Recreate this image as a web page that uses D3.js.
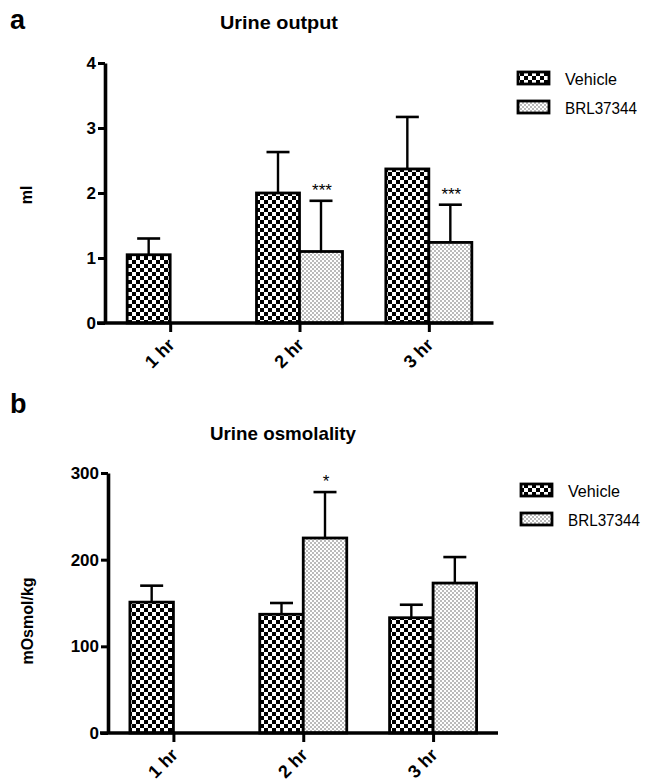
<!DOCTYPE html>
<html>
<head>
<meta charset="utf-8">
<script src="https://cdn.jsdelivr.net/npm/d3@7"></script>
<style>
  html, body { margin: 0; padding: 0; background: #fff; }
  svg { display: block; }
  text { font-family: "Liberation Sans", Arial, sans-serif; fill: #000; }
</style>
</head>
<body>
<svg id="chart" width="646" height="783"></svg>
<script>
// ---------- DATA ----------
const categories = ["1 hr", "2 hr", "3 hr"];
const seriesNames = ["Vehicle", "BRL37344"];

// Panel a: urine output (ml)
const outputVehicle    = [1.05, 2.00, 2.37];
const outputVehicleErr = [0.25, 0.63, 0.80];
const outputBRL        = [null, 1.10, 1.24];
const outputBRLErr     = [null, 0.78, 0.58];
const outputSig        = ["", "***", "***"];
const outputTicks      = [0, 1, 2, 3, 4];

// Panel b: urine osmolality (mOsmol/kg)
const osmoVehicle    = [151, 137, 133];
const osmoVehicleErr = [19, 13, 15];
const osmoBRL        = [null, 225, 173];
const osmoBRLErr     = [null, 53, 30];
const osmoSig        = ["", "*", ""];
const osmoTicks      = [0, 100, 200, 300];

// ---------- DRAWING ----------
const svg = d3.select("#chart");

// patterns
const defs = svg.append("defs");
const chk = defs.append("pattern").attr("id", "checker")
  .attr("patternUnits", "userSpaceOnUse").attr("width", 8).attr("height", 8);
chk.append("rect").attr("width", 8).attr("height", 8).attr("fill", "#fff");
chk.append("rect").attr("x", 0).attr("y", 0).attr("width", 4).attr("height", 4).attr("fill", "#000");
chk.append("rect").attr("x", 4).attr("y", 4).attr("width", 4).attr("height", 4).attr("fill", "#000");

const dots = defs.append("pattern").attr("id", "dots")
  .attr("patternUnits", "userSpaceOnUse").attr("width", 4).attr("height", 4);
dots.append("rect").attr("width", 4).attr("height", 4).attr("fill", "#fff");
dots.append("circle").attr("cx", 1).attr("cy", 1).attr("r", 0.75).attr("fill", "#555");
dots.append("circle").attr("cx", 3).attr("cy", 3).attr("r", 0.75).attr("fill", "#555");

const fills = { "Vehicle": "url(#checker)", "BRL37344": "url(#dots)" };
const legendLen = { "Vehicle": 52, "BRL37344": 72 };

function panel(opt) {
  const g = svg.append("g");
  const y = d3.scaleLinear().domain([0, opt.ticks[opt.ticks.length - 1]])
    .range([opt.y0, opt.y1]);
  const x = d3.scalePoint().domain(categories).range([opt.axisX + 0.5, opt.xEnd]).padding(0.5);
  const sub = d3.scaleBand().domain(seriesNames).range([-opt.barW, opt.barW]).padding(0);

  // panel letter
  g.append("text").attr("x", 10).attr("y", opt.letterY)
    .attr("font-size", 27).attr("font-weight", "bold").text(opt.letter);
  // title
  g.append("text").attr("x", opt.titleX).attr("y", opt.titleY)
    .attr("text-anchor", "middle").attr("font-size", 19).attr("font-weight", "bold")
    .attr("textLength", opt.titleLen).attr("lengthAdjust", "spacingAndGlyphs")
    .text(opt.title);
  // y label
  g.append("text")
    .attr("transform", `translate(${opt.ylabX},${opt.ylabY}) rotate(-90)`)
    .attr("text-anchor", "middle").attr("font-size", 16).attr("font-weight", "bold")
    .text(opt.ylabel);

  // bars
  const rows = [];
  categories.forEach((c, i) => {
    rows.push({ c, s: "Vehicle", v: opt.veh[i], e: opt.vehErr[i], sig: "" });
    if (opt.brl[i] != null) rows.push({ c, s: "BRL37344", v: opt.brl[i], e: opt.brlErr[i], sig: opt.sig[i] });
  });

  // error bars (upper only)
  const capW = 23;
  rows.forEach(d => {
    const cx = x(d.c) + sub(d.s) + sub.bandwidth() / 2;
    g.append("line").attr("x1", cx).attr("x2", cx)
      .attr("y1", y(d.v)).attr("y2", y(d.v + d.e))
      .attr("stroke", "#000").attr("stroke-width", 2.4);
    g.append("line").attr("x1", cx - capW / 2).attr("x2", cx + capW / 2)
      .attr("y1", y(d.v + d.e)).attr("y2", y(d.v + d.e))
      .attr("stroke", "#000").attr("stroke-width", 2.6);
    if (d.sig) {
      g.append("text").attr("x", cx + 1).attr("y", y(d.v + d.e) - 5)
        .attr("text-anchor", "middle").attr("font-size", 17).text(d.sig);
    }
  });

  g.selectAll("rect.bar").data(rows).join("rect").attr("class", "bar")
    .attr("x", d => x(d.c) + sub(d.s))
    .attr("width", sub.bandwidth())
    .attr("y", d => y(d.v))
    .attr("height", d => y(0) - y(d.v))
    .attr("fill", d => fills[d.s])
    .attr("stroke", "#000").attr("stroke-width", 2.8);

  // y axis
  const ya = g.append("g").attr("transform", `translate(${opt.axisX},0)`)
    .call(d3.axisLeft(y).tickValues(opt.ticks).tickFormat(d3.format("d"))
      .tickSize(7).tickPadding(2).tickSizeOuter(0));
  ya.select(".domain").attr("stroke-width", 3.6);
  ya.selectAll(".tick line").attr("stroke-width", 3);
  ya.selectAll(".tick text").attr("font-size", 17).attr("font-weight", "bold")
    .attr("font-family", "Liberation Sans, Arial, sans-serif");

  // x axis
  const xa = g.append("g").attr("transform", `translate(0,${opt.y0})`)
    .call(d3.axisBottom(x).tickSize(9).tickSizeOuter(0));
  xa.select(".domain").remove();
  xa.append("line").attr("x1", opt.axisX - 8).attr("x2", opt.xEnd)
    .attr("y1", 0).attr("y2", 0).attr("stroke", "#000").attr("stroke-width", 3.6);
  xa.selectAll(".tick line").attr("stroke-width", 3);
  xa.selectAll(".tick text")
    .attr("font-size", 18).attr("font-weight", "bold")
    .attr("font-family", "Liberation Sans, Arial, sans-serif")
    .attr("text-anchor", "end")
    .attr("dy", null)
    .attr("transform", "translate(5,23) rotate(-45)")
    .attr("x", 0).attr("y", 0);

  // legend
  seriesNames.forEach((s, i) => {
    const ly = opt.legY + i * 29;
    g.append("rect").attr("x", opt.legX).attr("y", ly).attr("width", 31).attr("height", 12)
      .attr("fill", fills[s]).attr("stroke", "#000").attr("stroke-width", 2.8);
    g.append("text").attr("x", opt.legX + 47).attr("y", ly + 13)
      .attr("font-size", 16.5).attr("textLength", legendLen[s])
      .attr("lengthAdjust", "spacingAndGlyphs").text(s);
  });
}

panel({
  letter: "a", letterY: 29, title: "Urine output", titleX: 279, titleY: 29, titleLen: 118,
  ylabel: "ml", ylabX: 32, ylabY: 195,
  y0: 323, y1: 63, axisX: 105, xEnd: 493.5, barW: 43,
  ticks: outputTicks, veh: outputVehicle, vehErr: outputVehicleErr,
  brl: outputBRL, brlErr: outputBRLErr, sig: outputSig,
  legX: 518, legY: 72
});

panel({
  letter: "b", letterY: 413, title: "Urine osmolality", titleX: 283, titleY: 440, titleLen: 146,
  ylabel: "mOsmol/kg", ylabX: 33, ylabY: 621,
  y0: 733, y1: 473, axisX: 108, xEnd: 498, barW: 43.5,
  ticks: osmoTicks, veh: osmoVehicle, vehErr: osmoVehicleErr,
  brl: osmoBRL, brlErr: osmoBRLErr, sig: osmoSig,
  legX: 521, legY: 484
});
</script>
</body>
</html>
